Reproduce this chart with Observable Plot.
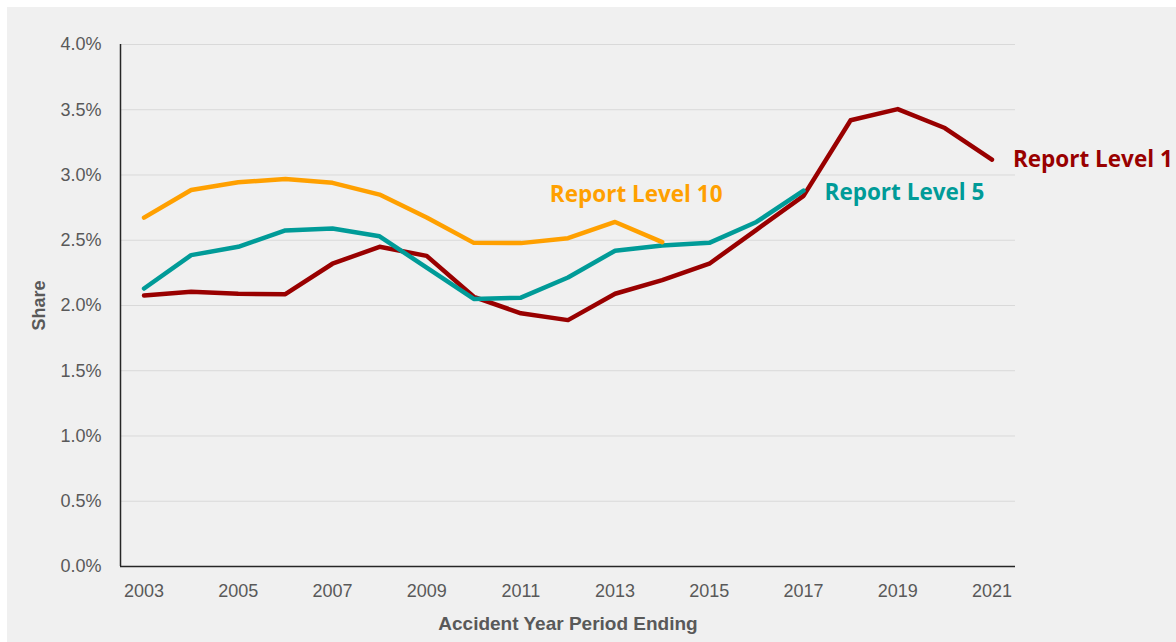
<!DOCTYPE html>
<html><head><meta charset="utf-8">
<script src="https://cdn.jsdelivr.net/npm/d3@7"></script>
<script src="https://cdn.jsdelivr.net/npm/@observablehq/plot@0.6"></script>
<style>
html,body{margin:0;padding:0;background:#fff;}
#wrap{position:absolute;left:7px;top:7px;width:1169px;height:635px;background:#f0f0f0;overflow:hidden;}
</style></head>
<body><div id="wrap"></div>
<script>
const years = [2003,2004,2005,2006,2007,2008,2009,2010,2011,2012,2013,2014,2015,2016,2017,2018,2019,2020,2021];
const level1 = [2.077,2.105,2.09,2.087,2.32,2.45,2.38,2.067,1.94,1.888,2.09,2.195,2.32,2.58,2.84,3.42,3.505,3.36,3.117];
const level5 = [2.13,2.386,2.45,2.575,2.59,2.53,2.29,2.05,2.06,2.215,2.42,2.46,2.48,2.64,2.88];
const level10 = [2.673,2.885,2.944,2.97,2.94,2.85,2.675,2.48,2.478,2.516,2.64,2.486];
const seriesNames = ["Report Level 1","Report Level 5","Report Level 10"];
const seriesColors = ["#990000","#009B98","#FFA000"];
const xTicks = [2003,2005,2007,2009,2011,2013,2015,2017,2019,2021];
const yTicks = [0,0.5,1,1.5,2,2.5,3,3.5,4];

const rows = [];
[level1, level5, level10].forEach((vals, i) => vals.forEach((v, j) => rows.push({series: seriesNames[i], year: years[j], value: v})));
const lastOf = seriesNames.map(s => rows.filter(r => r.series === s).at(-1));

const font = "'Liberation Sans',Arial,sans-serif";
const labelFont = "'Open Sans',sans-serif";
const chart = Plot.plot({
  width: 1169, height: 635,
  marginLeft: 113, marginRight: 161, marginTop: 37, marginBottom: 76,
  style: {background: "transparent", color: "#595959", fontFamily: font},
  x: {domain: [2002.5, 2021.5], label: null},
  y: {domain: [0, 4], label: null},
  color: {domain: seriesNames, range: seriesColors},
  marks: [
    Plot.gridY(yTicks, {stroke: "#d9d9d9", strokeOpacity: 1, strokeWidth: 1}),
    Plot.axisX(xTicks, {tickFormat: d => String(d), tickSize: 0, tickPadding: 18, fontSize: 18, fontFamily: font, fill: "#595959", label: null}),
    Plot.axisY(yTicks, {tickFormat: d => d.toFixed(1) + "%", tickSize: 0, tickPadding: 19, fontSize: 18, fill: "#595959", fontFamily: font, label: null}),
    Plot.ruleY([0], {stroke: "#262626", strokeWidth: 1.5}),
    Plot.ruleX([2002.5], {stroke: "#262626", strokeWidth: 1.5}),
    Plot.line(rows, {x: "year", y: "value", z: "series", stroke: "series", strokeWidth: 4.5, strokeLinejoin: "round", strokeLinecap: "round"}),
    Plot.text([lastOf[0]], {x: "year", y: "value", text: "series", fill: "series", textAnchor: "start", dx: 21, dy: 0, fontSize: 22.5, fontWeight: "bold", fontFamily: labelFont}),
    Plot.text([lastOf[1]], {x: "year", y: "value", text: "series", fill: "series", textAnchor: "start", dx: 21, dy: 2, fontSize: 22.5, fontWeight: "bold", fontFamily: labelFont}),
    Plot.text([lastOf[2]], {x: "year", y: "value", text: "series", fill: "series", textAnchor: "middle", dx: -26, dy: -47, fontSize: 22.5, fontWeight: "bold", fontFamily: labelFont}),
    Plot.text(["Accident Year Period Ending"], {frameAnchor: "bottom", dy: 63, text: d => d, fontSize: 19, fontWeight: "bold", fill: "#595959", fontFamily: font}),
    Plot.text(["Share"], {frameAnchor: "left", textAnchor: "middle", dx: -81, rotate: -90, text: d => d, fontSize: 18, fontWeight: "bold", fill: "#595959", fontFamily: font})
  ]
});
document.getElementById("wrap").appendChild(chart);
</script></body></html>
